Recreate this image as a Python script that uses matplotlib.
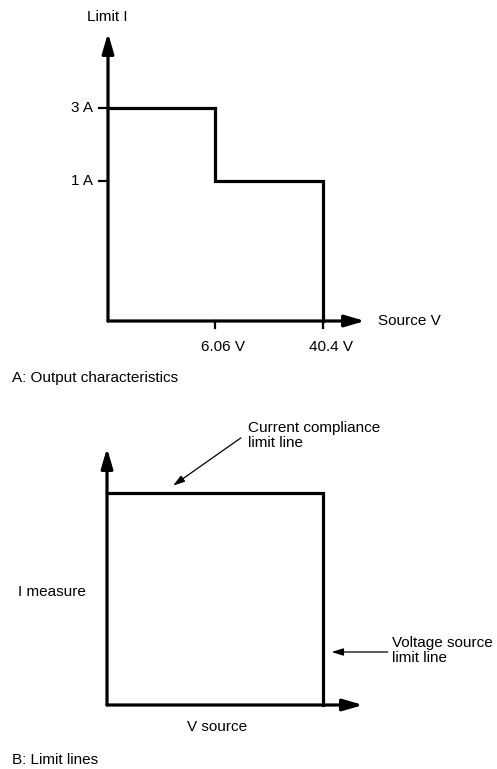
import matplotlib
matplotlib.use("Agg")
import matplotlib.pyplot as plt

plt.rcParams['font.family'] = ['Liberation Sans', 'DejaVu Sans']

W, H = 497, 769

# panel A: output characteristics (schematic, not to scale)
volt_labels = ['6.06 V', '40.4 V']
volt_pos = [1.0, 2.0]          # schematic x positions of the breakpoints
amp_labels = ['3 A', '1 A']
amp_pos = [3.0, 1.97]          # schematic y positions of the limit levels

# panel B: limit lines box (unit square)
box_v = 1.0
box_i = 1.0

fs = 11
lw = 2.3


def px_axes(fig, x0, y0, x1, y1):
    # axes from pixel box (x0,y0 top-left ... x1,y1 bottom-right)
    ax = fig.add_axes([x0 / W, 1 - y1 / H, (x1 - x0) / W, (y1 - y0) / H])
    ax.axis('off')
    return ax


def axis_arrow(ax, start, end):
    ax.annotate('', xy=end, xytext=start,
                arrowprops=dict(arrowstyle='-|>,head_length=1.2,head_width=0.35',
                                mutation_scale=10, lw=lw, color='black',
                                shrinkA=0, shrinkB=0),
                annotation_clip=False)


def ftext(x, y, s, **kw):
    fig.text(x / W, 1 - y / H, s, fontsize=fs, **kw)


fig = plt.figure(figsize=(W / 100, H / 100), dpi=100)

# ---- A ----
ax1 = px_axes(fig, 108, 33, 365, 321)
ax1.set_xlim(0, (365 - 108) / 107.5)
ax1.set_ylim(0, (321 - 33) / 71)
xmax1 = ax1.get_xlim()[1]
ymax1 = ax1.get_ylim()[1]

axis_arrow(ax1, (0, 0), (xmax1, 0))
axis_arrow(ax1, (0, 0), (0, ymax1))

xs = [0, volt_pos[0], volt_pos[0], volt_pos[1], volt_pos[1]]
ys = [amp_pos[0], amp_pos[0], amp_pos[1], amp_pos[1], 0]
ax1.plot(xs, ys, color='black', lw=lw, solid_joinstyle='miter', clip_on=False)

for p, lab in zip(amp_pos, amp_labels):
    ax1.plot([-0.085, 0], [p, p], color='black', lw=1.6, clip_on=False)
    ax1.annotate(lab, xy=(0, p), xytext=(-10.5, 0), textcoords='offset points',
                 ha='right', va='center', fontsize=fs, annotation_clip=False)
for p, lab in zip(volt_pos, volt_labels):
    ax1.plot([p, p], [0, -0.1], color='black', lw=1.6, clip_on=False)
    ax1.annotate(lab, xy=(p, 0), xytext=(5.5, -19), textcoords='offset points',
                 ha='center', va='center', fontsize=fs, annotation_clip=False)

ftext(107, 17, 'Limit I', ha='center', va='center')
ftext(378, 321, 'Source V', ha='left', va='center')
ftext(12, 378, 'A: Output characteristics', ha='left', va='center')

# ---- B ----
ax2 = px_axes(fig, 107, 448, 363, 705)
ax2.set_xlim(0, (363 - 107) / 216)
ax2.set_ylim(0, (705 - 448) / 212)
xmax2 = ax2.get_xlim()[1]
ymax2 = ax2.get_ylim()[1]

axis_arrow(ax2, (0, 0), (xmax2, 0))
axis_arrow(ax2, (0, 0), (0, ymax2))
ax2.plot([0, box_v, box_v], [box_i, box_i, 0], color='black', lw=lw,
         solid_joinstyle='miter', clip_on=False)

thin = dict(arrowstyle='-|>,head_length=0.7,head_width=0.22', mutation_scale=10,
            lw=0.9, color='black', shrinkA=0, shrinkB=0)
ax2.annotate('', xy=(0.306, 1.035), xytext=(0.62, 1.26), arrowprops=thin,
             annotation_clip=False)
ax2.annotate('', xy=(1.04, 0.25), xytext=(1.30, 0.25), arrowprops=thin,
             annotation_clip=False)

ftext(248, 435.5, 'Current compliance\nlimit line', ha='left', va='center',
      linespacing=1.1)
ftext(392, 650.5, 'Voltage source\nlimit line', ha='left', va='center',
      linespacing=1.1)
ftext(18, 592, 'I measure', ha='left', va='center')
ftext(217, 727, 'V source', ha='center', va='center')
ftext(12, 760, 'B: Limit lines', ha='left', va='center')

fig.savefig('out.png', dpi=100, facecolor='white')
